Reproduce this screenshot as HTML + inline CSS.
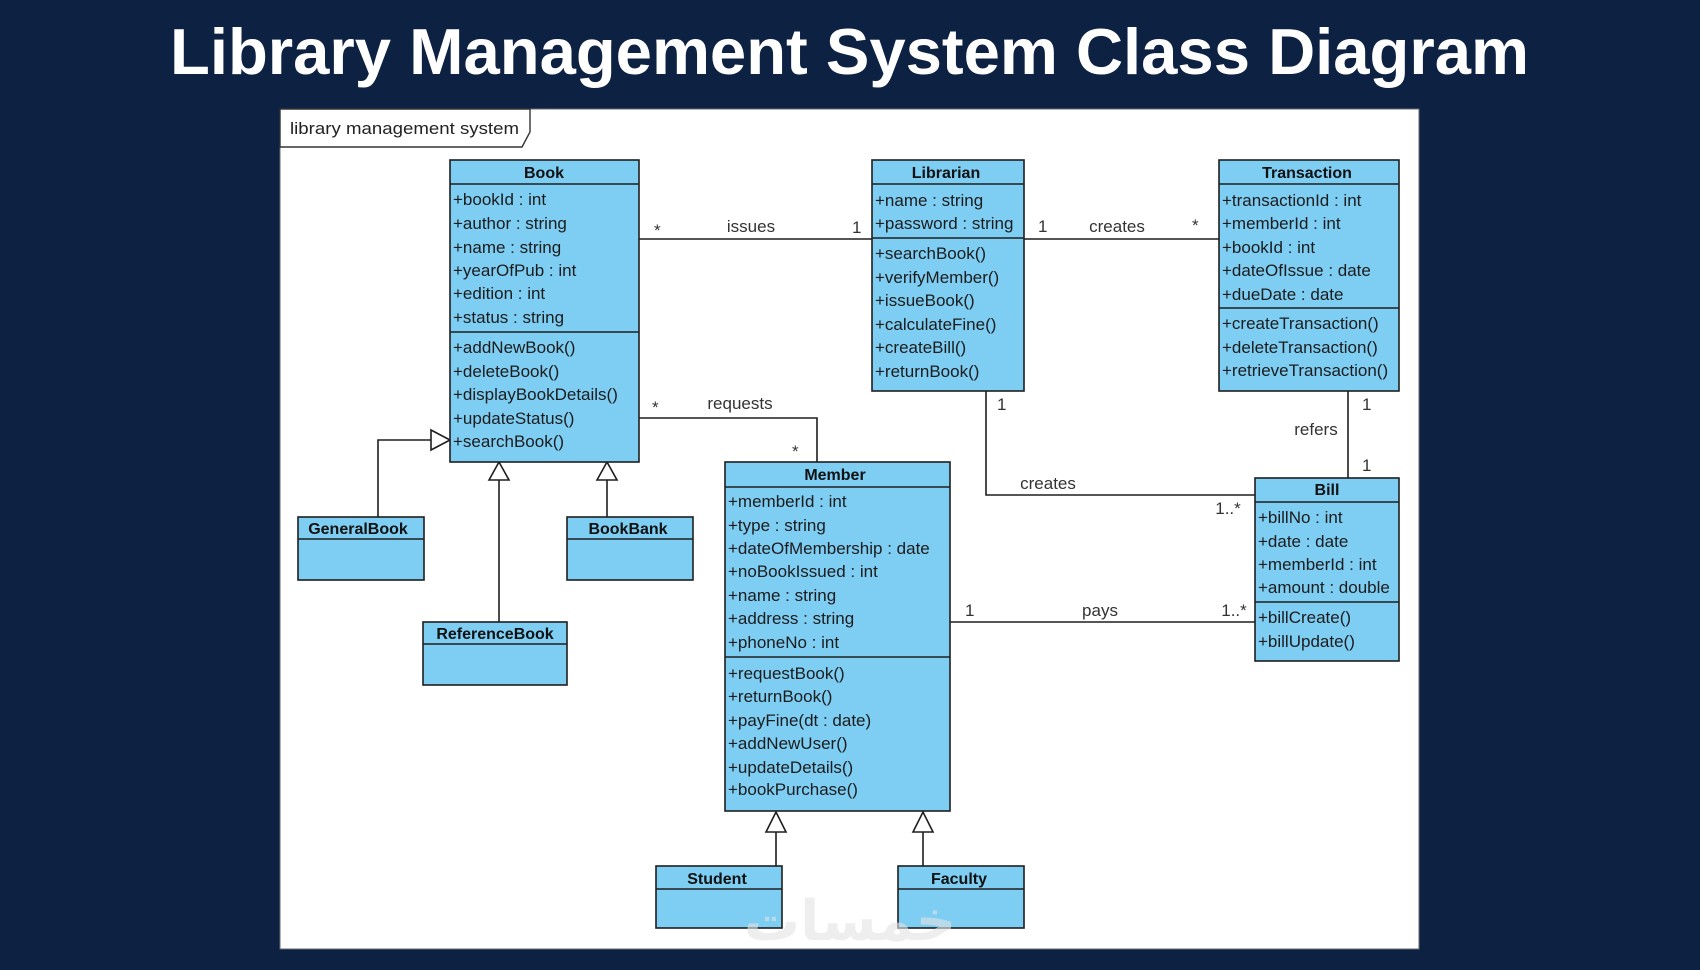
<!DOCTYPE html>
<html>
<head>
<meta charset="utf-8">
<style>
html,body{margin:0;padding:0;background:#0d2143;}
body{width:1700px;height:970px;overflow:hidden;}
svg{display:block;}
.t{font-family:"Liberation Sans",Arial,sans-serif;font-size:17px;fill:#1c1c1c;}
.h{font-family:"Liberation Sans",Arial,sans-serif;font-size:16px;font-weight:bold;fill:#111;text-anchor:middle;}
.l{font-family:"Liberation Sans",Arial,sans-serif;font-size:17px;fill:#333;}
.c{text-anchor:middle;}
.box{fill:#7ecdf3;stroke:#1e1e1e;stroke-width:1.6;}
.ln{stroke:#1e1e1e;stroke-width:1.6;fill:none;}
.tri{fill:#fff;stroke:#1e1e1e;stroke-width:1.6;}
</style>
</head>
<body>
<svg width="1700" height="970" viewBox="0 0 1700 970" xmlns="http://www.w3.org/2000/svg">
<rect x="0" y="0" width="1700" height="970" fill="#0d2143"/>
<text x="849.5" y="74" text-anchor="middle" textLength="1359" lengthAdjust="spacingAndGlyphs" style="font-family:'Liberation Sans',Arial,sans-serif;font-weight:bold;font-size:65px;fill:#ffffff;">Library Management System Class Diagram</text>

<!-- frame -->
<rect x="280" y="109" width="1139" height="840" fill="#ffffff" stroke="#6a6a6a" stroke-width="1"/>
<polygon points="280,109 530,109 530,132 522,147 280,147" fill="#fff" stroke="#333" stroke-width="1.4"/>
<text class="l" x="290" y="134" textLength="229" lengthAdjust="spacingAndGlyphs" style="fill:#222">library management system</text>

<!-- connectors -->
<line class="ln" x1="639" y1="239" x2="872" y2="239"/>
<line class="ln" x1="1024" y1="239" x2="1219" y2="239"/>
<polyline class="ln" points="639,418 817,418 817,462"/>
<polyline class="ln" points="986,391 986,495 1255,495"/>
<line class="ln" x1="1348" y1="391" x2="1348" y2="478"/>
<line class="ln" x1="950" y1="622" x2="1255" y2="622"/>
<polyline class="ln" points="378,517 378,440 431,440"/>
<line class="ln" x1="499" y1="622" x2="499" y2="480"/>
<line class="ln" x1="607" y1="517" x2="607" y2="480"/>
<line class="ln" x1="776" y1="866" x2="776" y2="832"/>
<line class="ln" x1="923" y1="866" x2="923" y2="832"/>
<polygon class="tri" points="431,430 450,440 431,450"/>
<polygon class="tri" points="489,480 499,462 509,480"/>
<polygon class="tri" points="597,480 607,462 617,480"/>
<polygon class="tri" points="766,832 776,812 786,832"/>
<polygon class="tri" points="913,832 923,812 933,832"/>

<!-- connector labels -->
<text class="l" x="654" y="236">*</text>
<text class="l c" x="751" y="232">issues</text>
<text class="l" x="852" y="233">1</text>
<text class="l" x="1038" y="232">1</text>
<text class="l c" x="1117" y="232">creates</text>
<text class="l" x="1192" y="231">*</text>
<text class="l" x="652" y="413">*</text>
<text class="l c" x="740" y="409">requests</text>
<text class="l" x="792" y="457">*</text>
<text class="l" x="997" y="410">1</text>
<text class="l c" x="1048" y="489">creates</text>
<text class="l c" x="1228" y="514">1..*</text>
<text class="l" x="1362" y="410">1</text>
<text class="l c" x="1316" y="435">refers</text>
<text class="l" x="1362" y="471">1</text>
<text class="l" x="965" y="616">1</text>
<text class="l c" x="1100" y="616">pays</text>
<text class="l c" x="1234" y="616">1..*</text>

<!-- Book -->
<rect class="box" x="450" y="160" width="189" height="302"/>
<line class="ln" x1="450" y1="184" x2="639" y2="184"/>
<line class="ln" x1="450" y1="332" x2="639" y2="332"/>
<text class="h" x="544" y="178">Book</text>
<text class="t" x="453" y="205">+bookId : int</text>
<text class="t" x="453" y="229">+author : string</text>
<text class="t" x="453" y="253">+name : string</text>
<text class="t" x="453" y="276">+yearOfPub : int</text>
<text class="t" x="453" y="299">+edition : int</text>
<text class="t" x="453" y="323">+status : string</text>
<text class="t" x="453" y="353">+addNewBook()</text>
<text class="t" x="453" y="377">+deleteBook()</text>
<text class="t" x="453" y="400">+displayBookDetails()</text>
<text class="t" x="453" y="424">+updateStatus()</text>
<text class="t" x="453" y="447">+searchBook()</text>

<!-- Librarian -->
<rect class="box" x="872" y="160" width="152" height="231"/>
<line class="ln" x1="872" y1="184" x2="1024" y2="184"/>
<line class="ln" x1="872" y1="238" x2="1024" y2="238"/>
<text class="h" x="946" y="178">Librarian</text>
<text class="t" x="875" y="206">+name : string</text>
<text class="t" x="875" y="229">+password : string</text>
<text class="t" x="875" y="259">+searchBook()</text>
<text class="t" x="875" y="283">+verifyMember()</text>
<text class="t" x="875" y="306">+issueBook()</text>
<text class="t" x="875" y="330">+calculateFine()</text>
<text class="t" x="875" y="353">+createBill()</text>
<text class="t" x="875" y="377">+returnBook()</text>

<!-- Transaction -->
<rect class="box" x="1219" y="160" width="180" height="231"/>
<line class="ln" x1="1219" y1="184" x2="1399" y2="184"/>
<line class="ln" x1="1219" y1="308" x2="1399" y2="308"/>
<text class="h" x="1307" y="178">Transaction</text>
<text class="t" x="1222" y="206">+transactionId : int</text>
<text class="t" x="1222" y="229">+memberId : int</text>
<text class="t" x="1222" y="253">+bookId : int</text>
<text class="t" x="1222" y="276">+dateOfIssue : date</text>
<text class="t" x="1222" y="300">+dueDate : date</text>
<text class="t" x="1222" y="329">+createTransaction()</text>
<text class="t" x="1222" y="353">+deleteTransaction()</text>
<text class="t" x="1222" y="376">+retrieveTransaction()</text>

<!-- Member -->
<rect class="box" x="725" y="462" width="225" height="349"/>
<line class="ln" x1="725" y1="487" x2="950" y2="487"/>
<line class="ln" x1="725" y1="657" x2="950" y2="657"/>
<text class="h" x="835" y="480">Member</text>
<text class="t" x="728" y="507">+memberId : int</text>
<text class="t" x="728" y="531">+type : string</text>
<text class="t" x="728" y="554">+dateOfMembership : date</text>
<text class="t" x="728" y="577">+noBookIssued : int</text>
<text class="t" x="728" y="601">+name : string</text>
<text class="t" x="728" y="624">+address : string</text>
<text class="t" x="728" y="648">+phoneNo : int</text>
<text class="t" x="728" y="679">+requestBook()</text>
<text class="t" x="728" y="702">+returnBook()</text>
<text class="t" x="728" y="726">+payFine(dt : date)</text>
<text class="t" x="728" y="749">+addNewUser()</text>
<text class="t" x="728" y="773">+updateDetails()</text>
<text class="t" x="728" y="795">+bookPurchase()</text>

<!-- Bill -->
<rect class="box" x="1255" y="478" width="144" height="183"/>
<line class="ln" x1="1255" y1="502" x2="1399" y2="502"/>
<line class="ln" x1="1255" y1="602" x2="1399" y2="602"/>
<text class="h" x="1327" y="495">Bill</text>
<text class="t" x="1258" y="523">+billNo : int</text>
<text class="t" x="1258" y="547">+date : date</text>
<text class="t" x="1258" y="570">+memberId : int</text>
<text class="t" x="1258" y="593">+amount : double</text>
<text class="t" x="1258" y="623">+billCreate()</text>
<text class="t" x="1258" y="647">+billUpdate()</text>

<!-- GeneralBook -->
<rect class="box" x="298" y="517" width="126" height="63"/>
<line class="ln" x1="298" y1="539" x2="424" y2="539"/>
<text class="h" x="358" y="534">GeneralBook</text>

<!-- BookBank -->
<rect class="box" x="567" y="517" width="126" height="63"/>
<line class="ln" x1="567" y1="539" x2="693" y2="539"/>
<text class="h" x="628" y="534">BookBank</text>

<!-- ReferenceBook -->
<rect class="box" x="423" y="622" width="144" height="63"/>
<line class="ln" x1="423" y1="644" x2="567" y2="644"/>
<text class="h" x="495" y="639">ReferenceBook</text>

<!-- Student -->
<rect class="box" x="656" y="866" width="126" height="62"/>
<line class="ln" x1="656" y1="889" x2="782" y2="889"/>
<text class="h" x="717" y="884">Student</text>

<!-- Faculty -->
<rect class="box" x="898" y="866" width="126" height="62"/>
<line class="ln" x1="898" y1="889" x2="1024" y2="889"/>
<text class="h" x="959" y="884">Faculty</text>

<!-- watermark -->
<text x="850" y="940" text-anchor="middle" style="font-family:'DejaVu Sans',sans-serif;font-size:56px;font-weight:bold;fill:#e4e4e4;opacity:0.6;">خمسات</text>
</svg>
</body>
</html>
